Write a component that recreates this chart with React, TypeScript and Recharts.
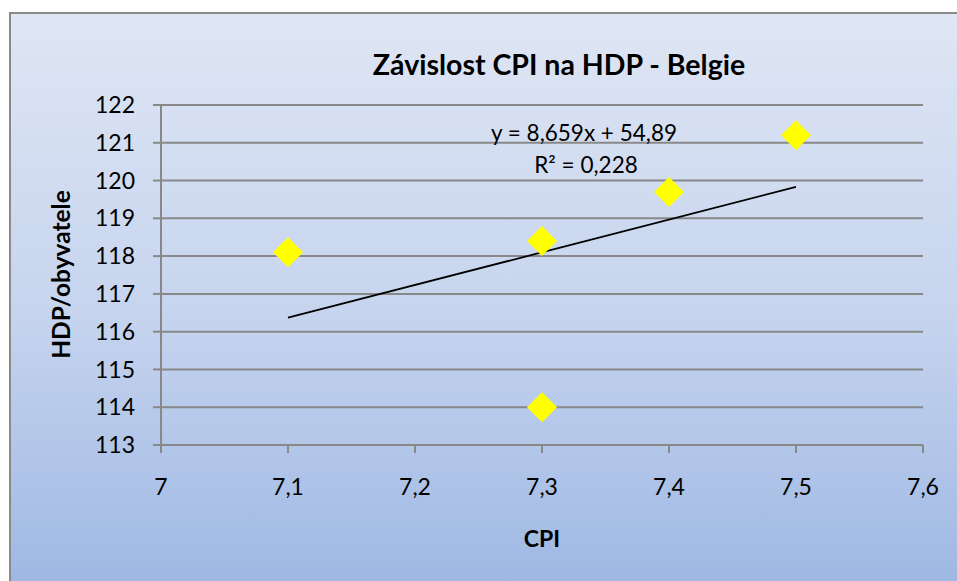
import React from "react";
import {
  ScatterChart,
  Scatter,
  XAxis,
  YAxis,
  CartesianGrid,
  ReferenceLine,
} from "recharts";

// Data
const cpiValues = [7.1, 7.3, 7.3, 7.4, 7.5];
const hdpValues = [118.1, 118.4, 114.0, 119.7, 121.2];
const xTicks = [7, 7.1, 7.2, 7.3, 7.4, 7.5, 7.6];
const yTicks = [113, 114, 115, 116, 117, 118, 119, 120, 121, 122];
const trendSlope = 8.659;
const trendIntercept = 54.89;
const trendLabel = "y = 8,659x + 54,89";
const r2Label = "R² = 0,228";
const title = "Závislost CPI na HDP - Belgie";
const xTitle = "CPI";
const yTitle = "HDP/obyvatele";

const points = cpiValues.map((x, i) => ({ x, y: hdpValues[i] }));
const xMin = Math.min(...cpiValues);
const xMax = Math.max(...cpiValues);
const trendSegment = [
  { x: xMin, y: trendSlope * xMin + trendIntercept },
  { x: xMax, y: trendSlope * xMax + trendIntercept },
];

const FONT = "Lato, 'Open Sans', sans-serif";
const PLOT_LEFT = 161;

const Diamond = (props: any) => {
  const { cx, cy } = props;
  if (cx == null || cy == null) return null;
  const r = 15;
  return (
    <polygon
      points={`${cx},${cy - r} ${cx + r},${cy} ${cx},${cy + r} ${cx - r},${cy}`}
      fill="#FFFF00"
    />
  );
};

const YTick = (props: any) => {
  const { y, payload } = props;
  return (
    <text
      x={PLOT_LEFT - 26}
      y={y}
      dy="0.355em"
      textAnchor="end"
      fill="#000"
      fontSize={23}
      fontFamily={FONT}
    >
      {payload.value}
    </text>
  );
};

const fmt = (v: number) => String(v).replace(".", ",");

export default function App() {
  return (
    <div
      style={{
        position: "absolute",
        left: 0,
        top: 0,
        width: 957,
        height: 581,
        overflow: "hidden",
        background: "#ffffff",
      }}
    >
      <div
        style={{
          position: "absolute",
          left: 9,
          top: 12,
          width: 980,
          height: 600,
          border: "2px solid #8a8a8a",
          background: "linear-gradient(180deg, #dfe6f4 0%, #c6d4ee 50%, #9ab5e2 100%)",
        }}
      />
      <div style={{ position: "absolute", left: 0, top: 0 }}>
        <ScatterChart
          width={957}
          height={581}
          margin={{ top: 105, right: 34, left: 0, bottom: 0 }}
        >
          <CartesianGrid
            horizontal={true}
            vertical={false}
            stroke="#888888"
            strokeWidth={2}
          />
          <XAxis
            type="number"
            dataKey="x"
            domain={[7, 7.6]}
            ticks={xTicks}
            tickFormatter={fmt}
            height={136}
            axisLine={{ stroke: "#888888", strokeWidth: 2 }}
            tickLine={{ stroke: "#888888", strokeWidth: 2 }}
            tickSize={8}
            tickMargin={26}
            tick={{ fill: "#000", fontSize: 23, fontFamily: FONT }}
            allowDataOverflow
          />
          <YAxis
            type="number"
            dataKey="y"
            domain={[113, 122]}
            ticks={yTicks}
            width={PLOT_LEFT}
            axisLine={{ stroke: "#888888", strokeWidth: 2 }}
            tickLine={{ stroke: "#888888", strokeWidth: 2 }}
            tickSize={8}
            tick={<YTick />}
            allowDataOverflow
          />
          <ReferenceLine
            segment={trendSegment}
            stroke="#000000"
            strokeWidth={1.8}
            ifOverflow="visible"
          />
          <Scatter
            data={points}
            shape={<Diamond />}
            isAnimationActive={false}
          />
        </ScatterChart>
      </div>
      <svg
        width={957}
        height={581}
        style={{ position: "absolute", left: 0, top: 0, pointerEvents: "none" }}
      >
        <text
          x={559}
          y={75}
          textAnchor="middle"
          fontFamily={FONT}
          fontWeight="bold"
          fontSize={28.5}
          fill="#000"
        >
          {title}
        </text>
        <text
          x={584}
          y={141}
          textAnchor="middle"
          fontFamily={FONT}
          fontSize={22.5}
          fill="#000"
        >
          {trendLabel}
        </text>
        <text
          x={586}
          y={173}
          textAnchor="middle"
          fontFamily={FONT}
          fontSize={22.5}
          fill="#000"
        >
          {r2Label}
        </text>
        <text
          x={542}
          y={547}
          textAnchor="middle"
          fontFamily={FONT}
          fontWeight="bold"
          fontSize={23}
          fill="#000"
        >
          {xTitle}
        </text>
        <text
          x={70}
          y={274.5}
          textAnchor="middle"
          transform="rotate(-90 70 274.5)"
          fontFamily={FONT}
          fontWeight="bold"
          fontSize={24.5}
          fill="#000"
        >
          {yTitle}
        </text>
      </svg>
    </div>
  );
}
